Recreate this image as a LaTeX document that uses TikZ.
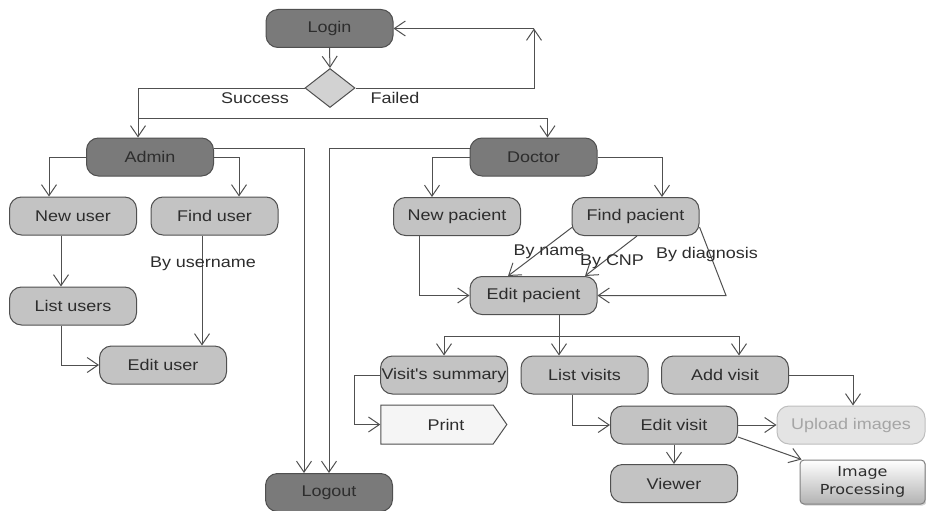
\documentclass[tikz,border=0pt]{standalone}
\usepackage{fontspec}
\usetikzlibrary{arrows.meta,shapes.geometric,shapes.symbols,shadows}
\newfontfamily\nf[FakeStretch=1.16]{Liberation Sans}
\newfontfamily\ipf[FakeStretch=1.16]{DejaVu Sans}
\definecolor{darkc}{RGB}{122,122,122}
\definecolor{lightc}{RGB}{195,195,195}
\definecolor{linec}{RGB}{80,80,80}
\definecolor{textc}{RGB}{45,45,45}
\definecolor{diac}{RGB}{210,210,210}
\definecolor{printc}{RGB}{245,245,245}
\definecolor{upfill}{RGB}{228,228,228}
\definecolor{upline}{RGB}{190,190,190}
\definecolor{uptext}{RGB}{165,165,165}
\begin{document}
\begin{tikzpicture}[x=1pt,y=-1pt,
 rbox/.style={rounded corners=12pt, draw=linec, line width=1pt, inner sep=0pt, minimum width=127pt, minimum height=38pt, font=\nf\fontsize{15.5}{18}\selectfont, text=textc},
 darkbox/.style={rbox, fill=darkc},
 lightbox/.style={rbox, fill=lightc},
 lbl/.style={font=\nf\fontsize{15.5}{18}\selectfont, text=textc, inner sep=0pt},
 conn/.style={draw=linec, line width=1pt, -{Straight Barb[length=11pt,width=15pt]}},
 wire/.style={draw=linec, line width=1pt}]
\useasboundingbox (0,0) rectangle (926,511);

% nodes
\node[darkbox] (login) at (329.5,28.5) {Login};
\node[diamond, draw=linec, fill=diac, line width=1pt, minimum width=50pt, minimum height=39pt, inner sep=0pt] (dia) at (330,88) {};
\node[darkbox] (admin) at (150,157) {Admin};
\node[darkbox] (doctor) at (533.5,157) {Doctor};
\node[lightbox] (newuser) at (73,216) {New user};
\node[lightbox] (finduser) at (214.5,216) {Find user};
\node[lightbox] (listusers) at (73,306) {List users};
\node[lightbox] (edituser) at (163,365) {Edit user};
\node[lightbox] (newpac) at (457,216.5) {New pacient};
\node[lightbox] (findpac) at (635.5,216.5) {Find pacient};
\node[lightbox] (editpac) at (533.5,295.5) {Edit pacient};
\node[lightbox] (visum) at (444,375) {Visit's summary};
\node[lightbox] (listvis) at (584.5,375) {List visits};
\node[lightbox] (addvis) at (725,375) {Add visit};
\node[signal, signal to=east, signal pointer angle=110, draw=linec, fill=printc, line width=1pt, minimum width=126pt, minimum height=39pt, inner sep=0pt, font=\nf\fontsize{15.5}{18}\selectfont, text=textc] (print) at (437,424.5) {\kern18pt Print};
\node[lightbox] (editvis) at (674,425) {Edit visit};
\node[rbox, fill=upfill, draw=upline, text=uptext, minimum width=148pt] (upload) at (851,425) {Upload images};
\node[lightbox] (viewer) at (674,483.5) {Viewer};
\node[draw=gray, line width=1pt, rounded corners=4pt, top color=white, bottom color=gray!60, minimum width=125pt, minimum height=44pt, inner sep=0pt, align=center, font=\ipf\fontsize{13.8}{18}\selectfont, text=textc, drop shadow={shadow xshift=1.5pt, shadow yshift=-1.5pt, opacity=0.35}] (imgproc) at (862.5,482) {Image\\Processing};
\node[darkbox] (logout) at (329,492.5) {Logout};

% helper coordinates
\coordinate (j1) at (138,118);
\coordinate (fc) at (534,28.5);
\coordinate (j2) at (559,336);
\coordinate (bd) at (726,295.5);
\path ([xshift=-12.5pt]finduser.south) coordinate (fu);

% login
\draw[conn] (login.south) -- (dia.north);
\draw[conn] (dia.west) -| ([xshift=-12pt]admin.north);
\draw[conn] (j1) -| ([xshift=14pt]doctor.north);
\draw[conn] (dia.east) -| (fc);
\draw[conn] (fc) -- (login.east);
\node[lbl] (lsuccess) at (255,98) {Success};
\node[lbl] (lfailed) at (395,98) {Failed};

% admin
\draw[conn] (admin.west) -| ([xshift=-24pt]newuser.north);
\draw[conn] (admin.east) -| ([xshift=24.5pt]finduser.north);
\draw[conn] ([xshift=-12pt]newuser.south) -- ([xshift=-12pt]listusers.north);
\draw[conn] (fu) -- (fu |- edituser.north);
\draw[conn] ([xshift=-12pt]listusers.south) |- (edituser.west);
\node[lbl] (lbyuser) at (203,264) {By username};
\draw[conn] ([yshift=9pt]admin.east) -| ([xshift=-25pt]logout.north);
\draw[conn] ([yshift=9pt]doctor.west) -| (logout.north);

% doctor
\draw[conn] (doctor.west) -| ([xshift=-25pt]newpac.north);
\draw[conn] (doctor.east) -| ([xshift=26.5pt]findpac.north);
\draw[conn] ([xshift=-38pt]newpac.south) |- (editpac.west);
\draw[conn] ([xshift=1pt,yshift=-10.5pt]findpac.west) -- ([xshift=-25.5pt]editpac.north);
\draw[conn] ([xshift=1.5pt]findpac.south) -- ([xshift=51.5pt]editpac.north);
\draw[conn] ([yshift=-10.5pt]findpac.east) -- (bd) -- (editpac.east);
\node[lbl] (lbyname) at (549,252) {By name};
\node[lbl] (lbycnp) at (612,262) {By CNP};
\node[lbl] (lbydiag) at (707,254) {By diagnosis};

% visits
\draw[conn] ([xshift=25.5pt]editpac.south) -- ([xshift=-25.5pt]listvis.north);
\draw[conn] (j2) -| (visum.north);
\draw[conn] (j2) -| ([xshift=14pt]addvis.north);
\draw[conn] (visum.west) -- ([xshift=-26pt]visum.west) |- (print.west);
\draw[conn] ([xshift=-12.5pt]listvis.south) |- (editvis.west);
\draw[conn] (editvis.east) -- (upload.west);
\draw[conn] (addvis.east) -| ([xshift=2pt]upload.north);
\draw[conn] (editvis.south) -- (viewer.north);
\draw[conn] ([yshift=-12pt]editvis.east) -- ([xshift=2pt]imgproc.north west);
\end{tikzpicture}
\end{document}
